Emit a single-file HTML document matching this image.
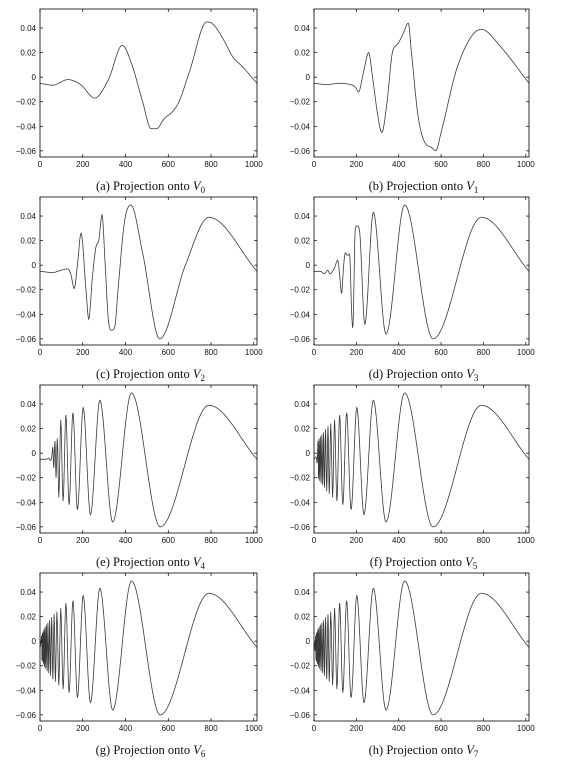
<!DOCTYPE html>
<html><head><meta charset="utf-8">
<style>
html,body{margin:0;padding:0;background:#fff;}
svg{display:block;}
.tk{font-family:"Liberation Sans",sans-serif;font-size:8px;fill:#111;}
.cap{font-family:"Liberation Serif",serif;font-size:12.5px;fill:#111;}
</style></head>
<body>
<svg id="fig" width="563" height="768" viewBox="0 0 563 768"></svg>
<script>
// ---- data (x sample index, y value) ----
const xTicks = [0,200,400,600,800,1000];
const yTicks = [-0.06,-0.04,-0.02,0,0.02,0.04];
const yTickLabels = ["\u22120.06","\u22120.04","\u22120.02","0","0.02","0.04"];
const captions = ["(a)","(b)","(c)","(d)","(e)","(f)","(g)","(h)"];
const levels = ["0","1","2","3","4","5","6","7"];

const seriesA = [[0,-0.005],[60,-0.0065],[130,-0.002],[190,-0.006],[255,-0.017],[320,-0.002],[385,0.026],[430,0.01],[480,-0.02],[520,-0.042],[545,-0.042],[580,-0.034],[620,-0.028],[650,-0.02],[700,0.005],[780,0.045],[810,0.043],[860,0.03],[900,0.017],[950,0.008],[1015,-0.005]];
const seriesB = [[0,-0.005],[60,-0.006],[120,-0.005],[170,-0.006],[195,-0.008],[210,-0.012],[235,0.005],[258,0.02],[275,0.002],[300,-0.03],[320,-0.045],[345,-0.02],[370,0.02],[395,0.027],[420,0.035],[445,0.044],[460,0.02],[490,-0.03],[515,-0.05],[560,-0.058],[575,-0.06],[600,-0.045],[680,0.01],[790,0.039],[880,0.025],[1015,-0.005]];
const seriesC = [[0,-0.005],[60,-0.006],[100,-0.004],[130,-0.003],[145,-0.008],[160,-0.019],[175,0],[192,0.026],[215,-0.02],[228,-0.044],[245,-0.01],[262,0.015],[275,0.02],[290,0.041],[305,0],[320,-0.045],[335,-0.053],[350,-0.05],[365,-0.02],[395,0.035],[425,0.049],[480,0.01],[560,-0.06],[680,0],[790,0.039],[1015,-0.005]];
const seriesD = [[0,-0.005],[30,-0.005],[50,-0.007],[65,-0.004],[75,-0.007],[95,-0.003],[112,0.004],[122,-0.01],[130,-0.023],[140,0],[148,0.01],[158,0.008],[168,0.009],[178,-0.04],[183,-0.051],[195,0.03],[205,0.032],[215,0.028],[240,-0.048],[280,0.043],[340,-0.056],[428,0.049],[562,-0.06],[790,0.039],[1015,-0.005]];
const fullX = [790,562,428,340,280,236,202,175,154,136,121,108,97,88,79,72,66,60,54.5,49.4,45,41,37,33.5,30,27,24,21.5,19,17,15,13,11,9.4,7.8];
const fullY = [0.039,-0.06,0.049,-0.056,0.043,-0.05,0.037,-0.046,0.033,-0.042,0.031,-0.039,0.027,-0.036,0.024,-0.033,0.022,-0.031,0.0195,-0.028,0.017,-0.026,0.015,-0.0245,0.0135,-0.0226,0.0117,-0.021,0.01,-0.019,0.008,-0.017,0.0064,-0.0155,0.0045];
const prefixE = [[0,-0.005],[30,-0.005],[40,-0.004],[50,-0.006],[55,-0.003],[60,0.005],[64,-0.012],[70,0.01],[75,-0.02],[81,0.012]];
const prefixF = [[0,-0.005],[10,-0.003],[15,-0.008]];
const prefixG = [[0,-0.005],[4,-0.002]];
const prefixH = [[0,-0.005],[3,-0.001],[5,-0.008]];
const cutE = 86, cutF = 19, cutG = 7, cutH = 0;

function withExtrema(prefix, cut){
  const pts = prefix.slice();
  for(let i=fullX.length-1;i>=0;i--){ if(fullX[i]>=cut) pts.push([fullX[i],fullY[i]]); }
  pts.push([1015,-0.005]);
  return pts;
}
const seriesList = [seriesA,seriesB,seriesC,seriesD,
  withExtrema(prefixE,cutE),withExtrema(prefixF,cutF),withExtrema(prefixG,cutG),withExtrema(prefixH,cutH)];

const NS="http://www.w3.org/2000/svg";
const svg=document.getElementById('fig');
const colL=[40,257], colR=[314,529];
const rowTop=[9,197,385,573], boxH=148;
const XMAX=1015, YMIN=-0.065, YMAX=0.0555;

function mk(tag,attrs,parent){const e=document.createElementNS(NS,tag);for(const k in attrs)e.setAttribute(k,attrs[k]);(parent||svg).appendChild(e);return e;}

function monotone(pts){
  const n=pts.length, d=[], m=new Array(n).fill(0);
  for(let i=0;i<n-1;i++) d.push((pts[i+1][1]-pts[i][1])/(pts[i+1][0]-pts[i][0]));
  m[0]=d[0]; m[n-1]=d[n-2];
  for(let i=1;i<n-1;i++){ m[i]=(d[i-1]*d[i]<=0)?0:(d[i-1]+d[i])/2; }
  for(let i=0;i<n-1;i++){
    if(d[i]===0){m[i]=0;m[i+1]=0;continue;}
    const a=m[i]/d[i], b=m[i+1]/d[i], s=a*a+b*b;
    if(s>9){const t=3/Math.sqrt(s);m[i]=t*a*d[i];m[i+1]=t*b*d[i];}
  }
  return m;
}

for(let p=0;p<8;p++){
  const col=(p%2===0)?colL:colR, top=rowTop[Math.floor(p/2)], bot=top+boxH;
  const sx=v=>col[0]+v/XMAX*(col[1]-col[0]);
  const sy=v=>bot-(v-YMIN)/(YMAX-YMIN)*boxH;
  const g=mk('g',{});
  
  
  const pts=seriesList[p], m=monotone(pts);
  let dstr='M'+sx(pts[0][0]).toFixed(2)+','+sy(pts[0][1]).toFixed(2);
  for(let i=0;i<pts.length-1;i++){
    const x0=pts[i][0],x1=pts[i+1][0],y0=pts[i][1],y1=pts[i+1][1],h=x1-x0;
    const n=Math.max(4,Math.ceil((sx(x1)-sx(x0))*2));
    for(let k=1;k<=n;k++){
      const t=k/n,t2=t*t,t3=t2*t;
      const y=(2*t3-3*t2+1)*y0+(t3-2*t2+t)*h*m[i]+(-2*t3+3*t2)*y1+(t3-t2)*h*m[i+1];
      dstr+='L'+sx(x0+t*h).toFixed(2)+','+sy(y).toFixed(2);
    }
  }
  const line=mk('path',{d:dstr,fill:'none',stroke:'#3a3a3a','stroke-width':0.8},g);
  
  
  const box=mk('rect',{x:col[0],y:top,width:col[1]-col[0],height:boxH,fill:'none',stroke:'#000','stroke-width':0.8},g);
  
  
  xTicks.forEach(v=>{
    const X=sx(v);
    mk('line',{x1:X,x2:X,y1:bot,y2:bot-3,stroke:'#000','stroke-width':0.7},g);
    mk('line',{x1:X,x2:X,y1:top,y2:top+3,stroke:'#000','stroke-width':0.7},g);
    const t=mk('text',{x:X,y:bot+10,'text-anchor':'middle',class:'tk'},g);
    t.textContent=String(v);
    
    
  });
  yTicks.forEach((v,i)=>{
    const Y=sy(v);
    mk('line',{x1:col[0],x2:col[0]+3,y1:Y,y2:Y,stroke:'#000','stroke-width':0.7},g);
    mk('line',{x1:col[1],x2:col[1]-3,y1:Y,y2:Y,stroke:'#000','stroke-width':0.7},g);
    const t=mk('text',{x:col[0]-4,y:Y+3,'text-anchor':'end',class:'tk'},g);
    t.textContent=yTickLabels[i];
    
    
  });
  const c=mk('text',{x:(col[0]+col[1])/2+2,y:top+181,'text-anchor':'middle',class:'cap'},g);
  
  
  c.appendChild(document.createTextNode(captions[p]+' Projection onto '));
  const v=document.createElementNS(NS,'tspan');v.setAttribute('font-style','italic');v.textContent='V';c.appendChild(v);
  const s=document.createElementNS(NS,'tspan');s.setAttribute('font-size','9');s.setAttribute('dy','3');s.textContent=levels[p];c.appendChild(s);
}
</script>
</body></html>
